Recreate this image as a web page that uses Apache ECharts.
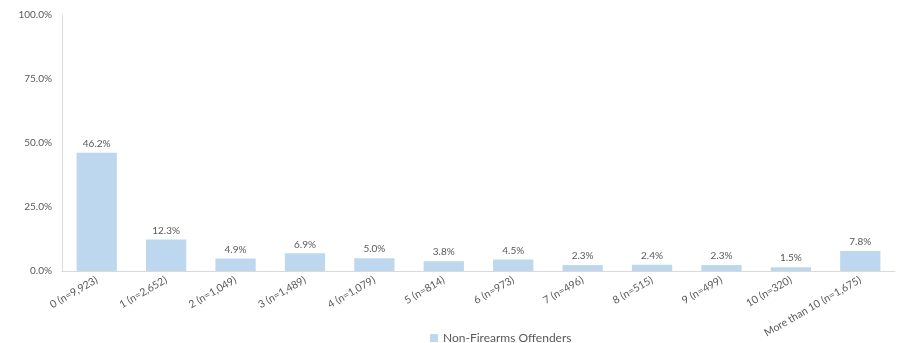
<!DOCTYPE html>
<html>
<head>
<meta charset="utf-8">
<script src="https://cdn.jsdelivr.net/npm/echarts@6/dist/echarts.min.js"></script>
<style>
  html, body { margin: 0; padding: 0; background: #fff; }
  #chart { width: 899px; height: 343px; }
</style>
</head>
<body>
<div id="chart"></div>
<script>
// Prior arrests per offender, with group sizes
const categories = [
  '0 (n=9,923)', '1 (n=2,652)', '2 (n=1,049)', '3 (n=1,489)', '4 (n=1,079)',
  '5 (n=814)', '6 (n=973)', '7 (n=496)', '8 (n=515)', '9 (n=499)',
  '10 (n=320)', 'More than 10 (n=1,675)'
];
const nonFirearmsShare = [46.2, 12.3, 4.9, 6.9, 5.0, 3.8, 4.5, 2.3, 2.4, 2.3, 1.5, 7.8];
const seriesName = 'Non-Firearms Offenders';

const textColor = '#595959';
const fontFamily = 'Lato, "DejaVu Sans", sans-serif';

const chart = echarts.init(document.getElementById('chart'));
chart.setOption({
  animation: false,
  textStyle: { fontFamily: fontFamily, color: textColor },
  grid: { left: 62, right: 4, top: 15, bottom: 72 },
  legend: {
    data: [seriesName],
    top: 327,
    left: 425,
    itemWidth: 8,
    itemHeight: 8,
    itemGap: 4,
    icon: 'rect',
    textStyle: { color: textColor, fontSize: 12, fontFamily: fontFamily }
  },
  xAxis: {
    type: 'category',
    data: categories,
    axisLine: { lineStyle: { color: '#D9D9D9' } },
    axisTick: { show: false },
    axisLabel: {
      rotate: 30,
      interval: 0,
      color: textColor,
      fontSize: 10.5,
      margin: 8
    }
  },
  yAxis: {
    type: 'value',
    min: 0,
    max: 100,
    interval: 25,
    splitLine: { show: false },
    axisLine: { show: true, lineStyle: { color: '#D9D9D9' } },
    axisTick: { show: false },
    axisLabel: {
      color: textColor,
      fontSize: 10,
      margin: 10,
      formatter: v => v.toFixed(1) + '%'
    }
  },
  series: [{
    name: seriesName,
    type: 'bar',
    data: nonFirearmsShare,
    barWidth: '58%',
    itemStyle: { color: '#BDD7EE' },
    label: {
      show: true,
      position: 'top',
      color: textColor,
      fontSize: 10,
      distance: 4,
      formatter: p => p.value.toFixed(1) + '%'
    }
  }]
});
</script>
</body>
</html>
